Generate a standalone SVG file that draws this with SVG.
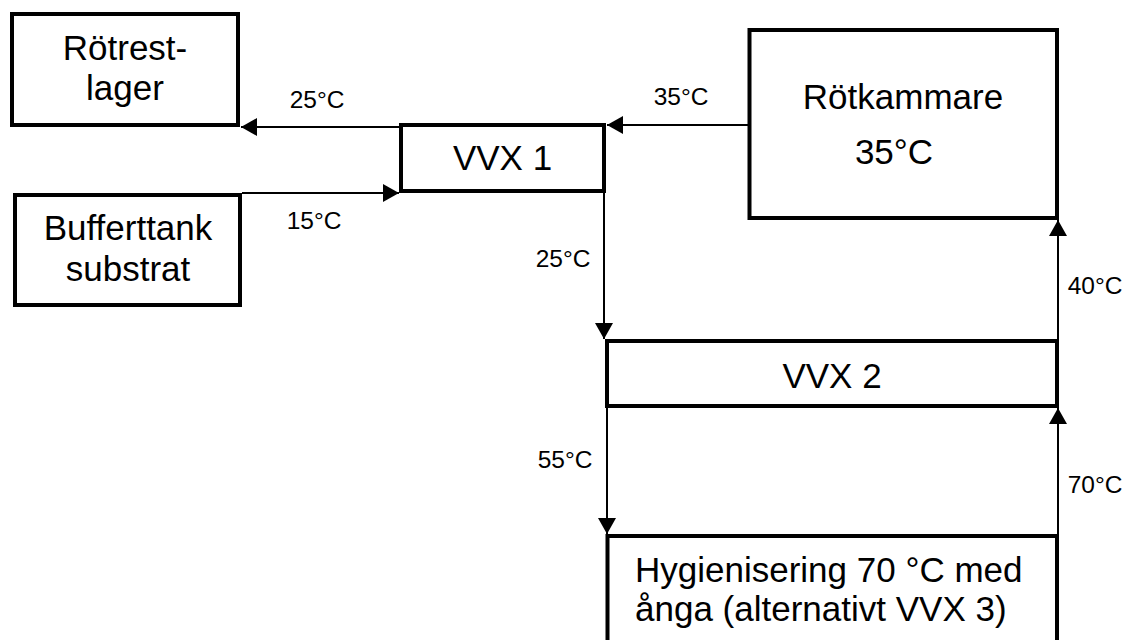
<svg xmlns="http://www.w3.org/2000/svg" width="1128" height="640" viewBox="0 0 1128 640">
<style>
.box{fill:#fff;stroke:#000;stroke-width:4}
.big{font-family:"Liberation Sans",Arial,sans-serif;font-size:35px;fill:#000}
.sm{font-family:"Liberation Sans",Arial,sans-serif;font-size:24.5px;fill:#000}
.c{text-anchor:middle}
.conn{stroke:#000;stroke-width:2;fill:none;marker-end:url(#ah)}
</style>
<defs>
<marker id="ah" markerUnits="userSpaceOnUse" markerWidth="17" markerHeight="18" refX="16" refY="9" orient="auto">
<path d="M0,0 L16,9 L0,18 z" fill="#000"/>
</marker>
</defs>
<rect width="1128" height="640" fill="#fff"/>
<g id="connectors">
<line class="conn" x1="401" y1="127" x2="241" y2="127"/>
<line class="conn" x1="242" y1="193" x2="399" y2="193"/>
<line class="conn" x1="749" y1="125" x2="607" y2="125"/>
<line class="conn" x1="604" y1="191" x2="604" y2="339"/>
<line class="conn" x1="607" y1="406" x2="607" y2="534"/>
<line class="conn" x1="1058" y1="536" x2="1058" y2="408"/>
<line class="conn" x1="1058" y1="341" x2="1058" y2="220"/>
<text class="sm c" x="317" y="108">25°C</text>
<text class="sm c" x="314" y="229">15°C</text>
<text class="sm c" x="681" y="105">35°C</text>
<text class="sm c" x="563" y="267">25°C</text>
<text class="sm c" x="565" y="468">55°C</text>
<text class="sm c" x="1095" y="294">40°C</text>
<text class="sm c" x="1095" y="493">70°C</text>
</g>
<g id="rotrestlager">
<rect class="box" x="12" y="14" width="226" height="111"/>
<text class="big c" x="125" y="60">Rötrest-</text>
<text class="big c" x="125" y="100">lager</text>
</g>
<g id="bufferttank">
<rect class="box" x="15" y="195" width="225" height="110"/>
<text class="big c" x="128" y="240">Bufferttank</text>
<text class="big c" x="128" y="281">substrat</text>
</g>
<g id="vvx1">
<rect class="box" x="401" y="125" width="203" height="66"/>
<text class="big c" x="502.5" y="170">VVX 1</text>
</g>
<g id="rotkammare">
<rect class="box" x="749.5" y="30" width="307.5" height="188"/>
<text class="big c" x="903" y="109">Rötkammare</text>
<text class="big c" x="894" y="164">35°C</text>
</g>
<g id="vvx2">
<rect class="box" x="607" y="341" width="450" height="65"/>
<text class="big c" x="832" y="388">VVX 2</text>
</g>
<g id="hygienisering">
<rect class="box" x="607.5" y="536" width="449.5" height="120"/>
<text class="big" x="635" y="582">Hygienisering 70 °C med</text>
<text class="big" x="635" y="621">ånga (alternativt VVX 3)</text>
</g>
</svg>
